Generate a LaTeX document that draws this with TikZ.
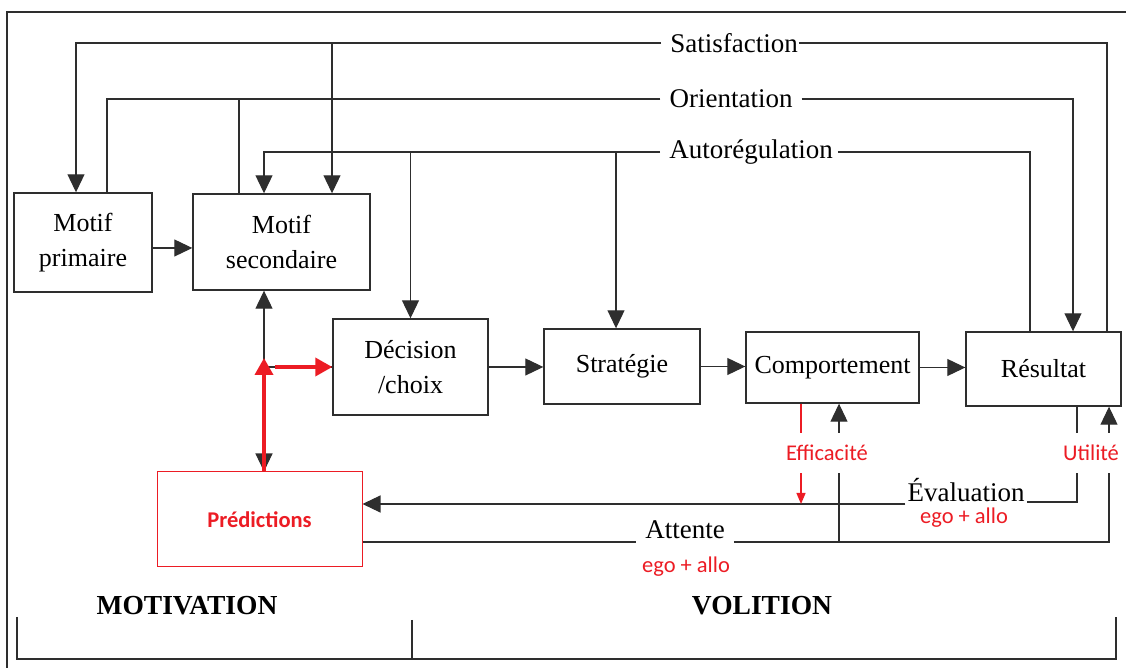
\documentclass[tikz,border=0pt]{standalone}
\usepackage{fontspec}
\setmainfont{Liberation Serif}
\newfontfamily\calibri{Carlito}
\usepackage{tikz}
\usetikzlibrary{arrows.meta}
\definecolor{trait}{gray}{0.18}
\definecolor{rouge}{RGB}{236,28,36}
\tikzstyle{bloc}=[draw=trait,line width=1.4pt,inner sep=0pt,align=center,font=\fontsize{26}{35}\selectfont]
\tikzstyle{etiq}=[inner xsep=9pt,inner ysep=3pt,font=\fontsize{27}{30}\selectfont]
\tikzstyle{rtxt}=[text=rouge,inner sep=2pt,font=\calibri\fontsize{22.5}{24}\selectfont]
\tikzstyle{titre}=[font=\bfseries\fontsize{27.5}{30}\selectfont]
\tikzstyle{fil}=[draw=trait,line width=1.1pt]
\tikzstyle{fleche}=[-{Triangle[length=18pt,width=17pt]}]
\tikzstyle{rfleche}=[draw=rouge,line width=3.6pt,-{Triangle[length=17pt,width=18pt]}]

\begin{document}
\begin{tikzpicture}[x=1pt,y=1pt]
\useasboundingbox (0,0) rectangle (1126,668);
\draw[trait,line width=2pt] (7,0) -- (7,656) -- (1126,656);

% les blocs
\node[bloc,minimum width=138pt,minimum height=99pt] (primaire) at (83,425.5) {Motif\\primaire};
\node[bloc,minimum width=177pt,minimum height=96pt] (secondaire) at (281.5,426) {Motif\\secondaire};
\node[bloc,minimum width=155pt,minimum height=96pt] (decision) at (410.5,301) {Décision\\/choix};
\node[bloc,minimum width=156pt,minimum height=75pt] (strategie) at (622,301.5) {Stratégie};
\node[bloc,minimum width=173pt,minimum height=71pt] (comport) at (832.5,300.5) {Comportement};
\node[bloc,minimum width=155pt,minimum height=74pt] (resultat) at (1043.5,299) {Résultat};
\node[bloc,draw=rouge,line width=1pt,minimum width=205pt,minimum height=95pt] (predictions) at (259.5,148.5)
    {\calibri\bfseries\fontsize{22.5}{24}\selectfont\textcolor{rouge}{Prédictions}};

% les boucles du haut
\node[etiq] (sat) at (734,625) {Satisfaction};
\node[etiq] (ori) at (731,569) {Orientation};
\node[etiq] (auto) at (751,516) {Autorégulation};
\node[etiq,inner xsep=2pt] (eval) at (966,178) {Évaluation};
\node[etiq] (attente) at (685,138) {Attente};

\coordinate (s2) at ([xshift=50.5pt]secondaire.north);
\draw[fil,fleche] (sat.west) -| ([xshift=-7pt]primaire.north);
\draw[fil,fleche] (s2 |- sat.west) -- (s2);
\draw[fil] ([xshift=-8pt]sat.east) -| ([xshift=63.5pt]resultat.north);

\coordinate (o2) at ([xshift=-42.5pt]secondaire.north);
\draw[fil] (ori.west) -| ([xshift=24pt]primaire.north);
\draw[fil] (o2) -- (o2 |- ori.west);
\draw[fil,fleche] (ori.east) -| ([xshift=29.5pt]resultat.north);

\coordinate (a3) at ([xshift=-6pt]strategie.north);
\draw[fil,fleche] (auto.west) -| ([xshift=-17.5pt]secondaire.north);
\draw[fil,fleche] (decision.north |- auto.west) -- (decision.north);
\draw[fil,fleche] (a3 |- auto.west) -- (a3);
\draw[fil] ([xshift=-4pt]auto.east) -| ([xshift=-13.5pt]resultat.north);

% la chaine principale
\coordinate (p1) at ([yshift=-5.5pt]primaire.east);
\draw[fil,fleche] (p1) -- (p1 -| secondaire.west);
\draw[fil,fleche] (decision.east) -- (decision.east -| strategie.west);
\draw[fil,fleche] (strategie.east) -- (strategie.east -| comport.west);
\draw[fil,fleche] (comport.east) -- (comport.east -| resultat.west);

% predictions
\coordinate (s3) at ([xshift=-17.5pt]secondaire.south);
\coordinate (jn) at (s3 |- decision.west);
\draw[fil,fleche] (jn) -- (s3);
\draw[fil,fleche] (jn) -- (jn |- predictions.north);
\draw[fil] (jn) -- (decision.west);
\draw[rfleche] (jn |- predictions.north) -- ([yshift=9pt]jn);
\draw[rfleche] ([xshift=11pt]jn) -- (decision.west);

% retours du bas
\coordinate (r1) at ([xshift=33.5pt]resultat.south);
\coordinate (e1) at ([yshift=-14pt]eval.west);
\draw[fil] (r1) |- ([yshift=-12pt]eval.east);
\draw[fil,fleche] (e1) -- (e1 -| predictions.east);

\coordinate (at1) at ([yshift=-12pt]attente.west);
\coordinate (at2) at ([yshift=-12pt]attente.east);
\coordinate (r2) at ([xshift=65.5pt]resultat.south);
\coordinate (c1) at ([xshift=6.5pt]comport.south);
\coordinate (c2) at ([xshift=-31.5pt]comport.south);
\draw[fil] (at1 -| predictions.east) -- (at1);
\draw[fil,fleche] (at2) -| (r2);
\draw[fil,fleche] (c1 |- at2) -- (c1);
\draw[draw=rouge,line width=1.3pt,-{Triangle[length=11pt,width=9pt]}] (c2) -- (c2 |- e1);

\node[rtxt,fill=white,inner ysep=12pt] (effic) at (827,215) {Efficacité};
\node[rtxt,fill=white,inner ysep=12pt] (util) at (1091,215) {Utilité};
\node[rtxt] (ego1) at (964,150) {ego + allo};
\node[rtxt] (ego2) at (686,101) {ego + allo};

% motivation / volition
\node[titre] (motiv) at (187,62) {MOTIVATION};
\node[titre] (volit) at (762,62) {VOLITION};
\draw[fil] (17,51) |- (1116,9) -- (1116,51);
\draw[fil] (412,48) -- (412,9);
\end{tikzpicture}
\end{document}
